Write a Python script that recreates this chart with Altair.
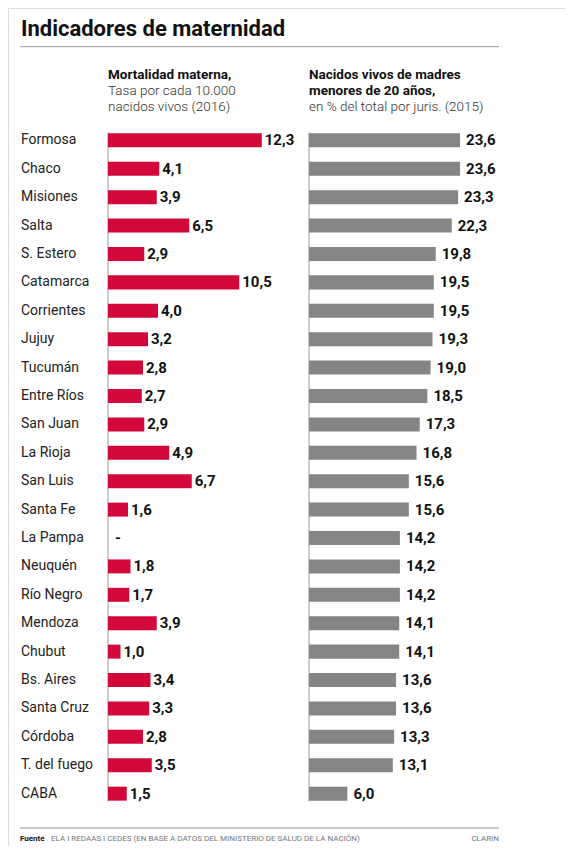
import altair as alt
import pandas as pd

provincias = ["Formosa", "Chaco", "Misiones", "Salta", "S. Estero", "Catamarca",
              "Corrientes", "Jujuy", "Tucumán", "Entre Ríos", "San Juan", "La Rioja",
              "San Luis", "Santa Fe", "La Pampa", "Neuquén", "Río Negro", "Mendoza",
              "Chubut", "Bs. Aires", "Santa Cruz", "Córdoba", "T. del fuego", "CABA"]
mortalidad = [12.3, 4.1, 3.9, 6.5, 2.9, 10.5, 4.0, 3.2, 2.8, 2.7, 2.9, 4.9,
              6.7, 1.6, None, 1.8, 1.7, 3.9, 1.0, 3.4, 3.3, 2.8, 3.5, 1.5]
nacidos = [23.6, 23.6, 23.3, 22.3, 19.8, 19.5, 19.5, 19.3, 19.0, 18.5, 17.3, 16.8,
           15.6, 15.6, 14.2, 14.2, 14.2, 14.1, 14.1, 13.6, 13.6, 13.3, 13.1, 6.0]


def fmt(v):
    return "-" if v is None else f"{v:.1f}".replace(".", ",")


df = pd.DataFrame({
    "prov": provincias,
    "mort": mortalidad,
    "nac": nacidos,
    "mort_lbl": [fmt(v) for v in mortalidad],
    "nac_lbl": [fmt(v) for v in nacidos],
})
df["mort0"] = df["mort"].fillna(0)

RED = "#d3083a"
GRAY = "#858585"
FONT = "Roboto"

yscale = alt.Scale(domain=provincias, range=[124.5, 793.5], paddingInner=0.507, paddingOuter=0.03)
left_x = alt.Scale(domain=[0, 12], range=[100, 250])
right_x = alt.Scale(domain=[0, 25], range=[301, 461])

base = alt.Chart(df)
Y = alt.Y("prov:N", scale=yscale, axis=None)

left_bars = base.transform_filter("isValid(datum.mort)").mark_bar(color=RED).encode(
    x=alt.X("mort:Q", scale=left_x, axis=None), y=Y)
left_lbl = base.transform_filter("isValid(datum.mort)").mark_text(
    align="left", baseline="middle", dx=3, font=FONT,
    fontWeight="bold", fontSize=15, color="#111").encode(
    x=alt.X("mort0:Q", scale=left_x, axis=None), y=Y, text="mort_lbl:N")
left_dash = base.transform_filter("!isValid(datum.mort)").mark_text(
    align="left", baseline="middle", dx=7, font=FONT,
    fontWeight="bold", fontSize=15, color="#111").encode(
    x=alt.X("mort0:Q", scale=left_x, axis=None), y=Y, text="mort_lbl:N")
left_line = base.mark_rule(color="#999", strokeWidth=1).encode(
    x=alt.X("mort0:Q", scale=left_x, axis=None, aggregate="min"),
    y=alt.value(124.5), y2=alt.value(793.5))

right_bars = base.mark_bar(color=GRAY).encode(
    x=alt.X("nac:Q", scale=right_x, axis=None), y=Y)
right_lbl = base.mark_text(align="left", baseline="middle", dx=6, font=FONT,
                           fontWeight="bold", fontSize=15, color="#111").encode(
    x=alt.X("nac:Q", scale=right_x, axis=None), y=Y, text="nac_lbl:N")
right_line = base.transform_aggregate(z="min(mort0)").transform_calculate(z="0").mark_rule(
    color="#999", strokeWidth=1).encode(
    x=alt.X("z:Q", scale=right_x, axis=None),
    y=alt.value(124.5), y2=alt.value(793.5))

cat_lbl = base.mark_text(align="left", baseline="middle", font=FONT, fontSize=14,
                         color="#222").encode(x=alt.value(13), y=Y, text="prov:N")


def txt(s, x, y, size, weight="normal", color="#222", align="left"):
    return alt.Chart(pd.DataFrame({"t": [s]})).mark_text(
        align=align, baseline="alphabetic", font=FONT, fontSize=size,
        fontWeight=weight, color=color).encode(x=alt.value(x), y=alt.value(y), text="t:N")


def hrule(y):
    return alt.Chart(pd.DataFrame({"a": [0]})).mark_rule(color="#999", strokeWidth=1).encode(
        x=alt.value(12), x2=alt.value(491), y=alt.value(y))


annots = [
    txt("Indicadores de maternidad", 13, 28, 22, "bold", "#111"),
    hrule(38.7),
    txt("Mortalidad materna,", 100, 71, 13.5, "bold", "#111"),
    txt("Tasa por cada 10.000", 100, 87, 13.5, 300, "#333"),
    txt("nacidos vivos (2016)", 100, 103, 13.5, 300, "#333"),
    txt("Nacidos vivos de madres", 301, 71, 13.5, "bold", "#111"),
    txt("menores de 20 años,", 301, 87, 13.5, "bold", "#111"),
    txt("en % del total por juris. (2015)", 301, 103, 13.5, 300, "#333"),
    hrule(820),
    txt("Fuente", 12, 833, 8, "bold", "#111"),
    txt("ELA  I  REDAAS  I  CEDES (EN BASE A DATOS DEL MINISTERIO DE SALUD DE LA NACIÓN)",
        43, 833, 8, "normal", "#777"),
    txt("CLARIN", 491, 833, 8, "normal", "#777", "right"),
]

chart = alt.layer(
    left_line, right_line, left_bars, right_bars, left_lbl, left_dash, right_lbl, cat_lbl, *annots
).resolve_scale(x="independent").properties(
    width=557, height=838, autosize=alt.AutoSizeParams(type="none"), padding=0
).configure_view(stroke=None).configure(background="white")

chart.save("out.html", embed_options={"renderer": "svg", "actions": False})
